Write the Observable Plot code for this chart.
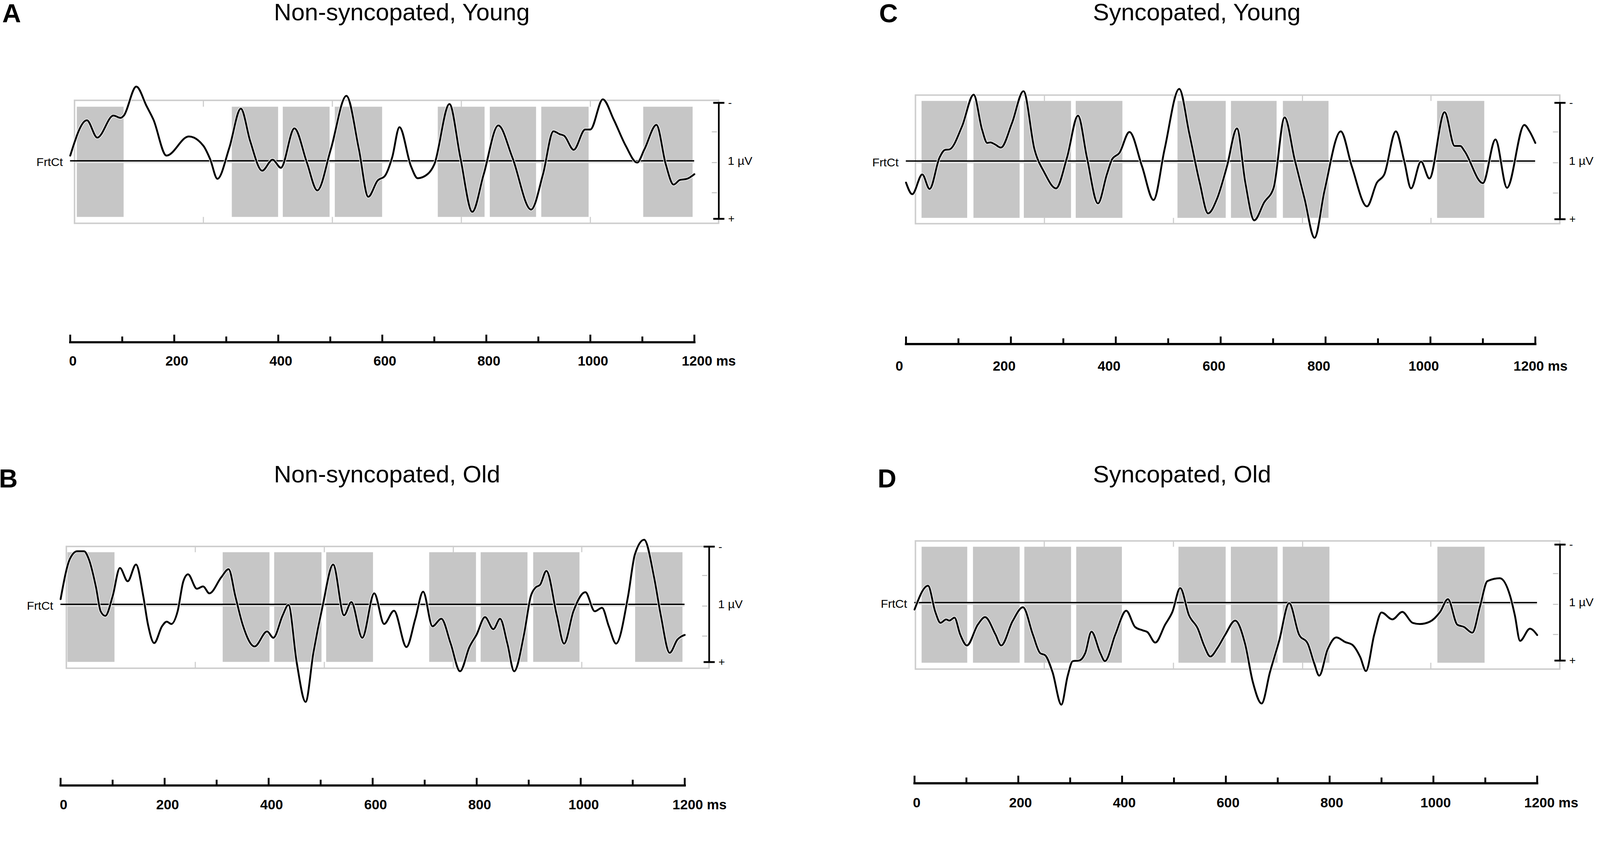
<!DOCTYPE html>
<html>
<head>
<meta charset="utf-8">
<script src="https://cdn.jsdelivr.net/npm/d3@7"></script>
<script src="https://cdn.jsdelivr.net/npm/@observablehq/plot@0.6"></script>
<style>
  html, body { margin: 0; padding: 0; background: #fff; overflow: hidden; }
  #page { position: relative; width: 4317px; height: 2189px; overflow: hidden; background: #fff;
          transform-origin: 0 0;
          font-family: "Liberation Sans", Arial, Helvetica, sans-serif; color: #000; }
  .panel { position: absolute; }
  .title { position: absolute; font-size: 65px; line-height: 1; white-space: nowrap; z-index: 2; }
  .letter { position: absolute; font-size: 70px; font-weight: bold; line-height: 1; z-index: 2; }
</style>
</head>
<body>
<div id="page"></div>
<script>
// ---------------- data (ms on the drawn axis, µV; negative is drawn upward) ----------------
const titles = ["Non-syncopated, Young", "Non-syncopated, Old", "Syncopated, Young", "Syncopated, Old"];
const letters = ["A", "B", "C", "D"];
const channelName = "FrtCt";
const scaleLabel = "1 µV";
const majorTicks = [0, 200, 400, 600, 800, 1000, 1200];
const minorTicks = [100, 300, 500, 700, 900, 1100];
const labelTicks = [0, 200, 400, 600, 800, 1000];
const lastTick = [1200];
const scaleBarEnds = [-1, 1];
const scaleBarMinor = [-0.5, 0.03, 0.55];

// Panel A: Non-syncopated, Young
const timeA = [0,32,52,83,97,103,127,147,160,185,228,256,269,283,306,328,346,369,389,405,431,455,475,501,531,555,573,591,605,619,633,655,668,687,700,729,750,773,795,823,850,886,909,929,941,950,968,990,1000,1024,1045,1068,1090,1104,1127,1145,1160,1172,1186,1200];
const uvA   = [-0.09,-0.70,-0.40,-0.78,-0.74,-0.78,-1.28,-0.94,-0.71,-0.09,-0.42,-0.26,-0.03,0.31,-0.23,-0.90,-0.34,0.17,-0.02,0.12,-0.56,0.03,0.51,-0.20,-1.12,-0.20,0.62,0.34,0.26,-0.06,-0.58,0.09,0.30,0.23,0.06,-0.98,-0.06,0.88,0.23,-0.61,-0.06,0.84,0.23,-0.51,-0.46,-0.43,-0.19,-0.54,-0.54,-1.06,-0.71,-0.26,0.03,-0.20,-0.62,0.06,0.41,0.33,0.31,0.23];
const stimStartA = [13,311,409,509,707,807,906,1102];
const stimEndA   = [103,400,499,600,797,896,997,1197];
const boxA = [8.6, 1247, -1.04, 1.08];
const stimYA = [-0.93, 0.97];
const gridA = [256, 504, 752, 1000];

// Panel B: Non-syncopated, Old
const timeB = [0,18,32,45,54,68,77,86,100,114,129,145,159,168,180,195,204,213,225,236,245,262,274,286,309,323,336,350,373,397,409,427,438,454,471,486,504,524,545,559,580,603,622,641,665,682,697,715,732,750,768,786,800,816,832,845,859,872,891,904,913,922,934,954,968,986,1009,1027,1041,1054,1068,1091,1104,1122,1141,1154,1171,1186,1200];
const uvB   = [-0.09,-0.79,-0.92,-0.92,-0.79,-0.30,0.12,0.20,-0.14,-0.63,-0.40,-0.69,-0.14,0.35,0.67,0.38,0.30,0.34,0.12,-0.40,-0.52,-0.27,-0.31,-0.19,-0.47,-0.61,-0.14,0.35,0.73,0.47,0.58,0.19,0.01,1.01,1.69,0.84,0.02,-0.69,0.19,-0.04,0.58,-0.19,0.34,0.11,0.74,0.25,-0.22,0.38,0.25,0.68,1.16,0.74,0.52,0.22,0.43,0.25,0.68,1.16,0.52,-0.14,-0.29,-0.34,-0.58,0.19,0.68,0.12,-0.21,0.12,0.06,0.38,0.68,-0.14,-0.86,-1.12,-0.47,0.19,0.84,0.61,0.53];
const stimStartB = [13.5,312,411,511,709,808,909,1105];
const stimEndB   = [104,402,502,601,799,898,998,1196];
const boxB = [11.4, 1247, -1.0, 1.11];
const stimYB = [-0.90, 1.0];
const gridB = [259, 507, 755, 1002];

// Panel C: Syncopated, Young
const timeC = [0,12,31,45,64,74,83,107,129,145,155,161,169,181,202,224,245,264,286,307,328,345,366,383,393,407,426,450,472,493,521,540,560,576,593,612,631,647,664,683,701,722,741,760,779,798,829,850,879,898,912,934,950,963,982,998,1027,1046,1057,1065,1100,1124,1146,1179,1189,1200];
const uvC   = [0.37,0.57,0.23,0.48,-0.06,-0.19,-0.20,-0.60,-1.14,-0.54,-0.31,-0.32,-0.29,-0.23,-0.65,-1.20,-0.20,0.20,0.47,-0.06,-0.78,-0.06,0.73,0.23,-0.03,-0.14,-0.50,0.09,0.67,-0.20,-1.24,-0.48,0.37,0.90,0.65,0.09,-0.56,0.37,1.02,0.71,0.46,-0.75,-0.03,0.65,1.32,0.51,-0.51,0.09,0.78,0.37,0.23,-0.51,0.00,0.47,0.01,0.30,-0.84,-0.26,-0.26,-0.17,0.38,-0.37,0.46,-0.62,-0.51,-0.31];
const stimStartC = [30,129,225,324,518,620,719,1013];
const stimEndC   = [117,217,315,413,610,707,806,1103];
const boxC = [18.4, 1247, -1.13, 1.08];
const stimYC = [-1.03, 0.98];
const gridC = [264, 510, 756, 1001];

// Panel D: Syncopated, Old
const timeD = [0,26,40,50,61,67,77,88,101,122,136,156,167,189,209,228,242,252,266,283,295,305,317,329,341,358,367,387,408,425,440,449,464,483,497,512,529,546,558,570,584,599,618,637,652,669,685,703,722,741,758,770,780,796,813,830,844,859,870,886,900,921,940,960,974,993,1013,1028,1046,1059,1075,1090,1104,1128,1148,1157,1167,1186,1200];
const uvD   = [0.12,-0.29,0.16,0.35,0.29,0.31,0.26,0.55,0.74,0.38,0.25,0.55,0.74,0.32,0.08,0.55,0.87,0.91,1.20,1.76,1.27,1.01,1.00,0.87,0.50,0.87,1.01,0.55,0.14,0.42,0.48,0.51,0.69,0.38,0.16,-0.25,0.22,0.45,0.74,0.93,0.78,0.55,0.31,0.71,1.37,1.74,1.20,0.65,0.01,0.55,0.71,1.04,1.26,0.81,0.60,0.68,0.73,0.94,1.18,0.55,0.17,0.29,0.16,0.35,0.37,0.33,0.16,-0.06,0.38,0.42,0.52,0.06,-0.37,-0.42,-0.11,0.22,0.66,0.45,0.56];
const stimStartD = [14,113,212,312,509,610,710,1008];
const stimEndD   = [102,203,302,400,600,700,800,1099];
const boxD = [2.1, 1244, -1.06, 1.15];
const stimYD = [-0.96, 1.04];
const gridD = [250, 499, 748, 995];

// ---------------- layout (pixels) ----------------
const layout = [
  {left: 0,    top: 0,    w: 2158, h: 1094, xr: [189, 1873], yr: [277, 590],   axisY: 923,  pad: 37, ldx: 7,
   title: [739, 0], letter: [6, 1]},
  {left: 0,    top: 1094, w: 2158, h: 1095, xr: [163, 1847], yr: [380.5, 692], axisY: 1025, pad: 38, ldx: 8,
   title: [739, 1247], letter: [-3, 1256]},
  {left: 2158, top: 0,    w: 2159, h: 1094, xr: [286, 1984], yr: [277, 591],   axisY: 928,  pad: 45, ldx: -18,
   title: [2949, 0], letter: [2372, 1]},
  {left: 2158, top: 1094, w: 2159, h: 1095, xr: [309, 1989], yr: [375, 688],   axisY: 1019, pad: 39, ldx: 6,
   title: [2949, 1247], letter: [2368, 1256]}
];

const panels = [
  {t: timeA, v: uvA, bs: stimStartA, be: stimEndA, box: boxA, stimY: stimYA, grid: gridA},
  {t: timeB, v: uvB, bs: stimStartB, be: stimEndB, box: boxB, stimY: stimYB, grid: gridB},
  {t: timeC, v: uvC, bs: stimStartC, be: stimEndC, box: boxC, stimY: stimYC, grid: gridC},
  {t: timeD, v: uvD, bs: stimStartD, be: stimEndD, box: boxD, stimY: stimYD, grid: gridD}
];

const hline = {
  draw(context, size) {
    const r = Math.sqrt(size / Math.PI);
    context.moveTo(-r, 0);
    context.lineTo(r, 0);
  }
};

const FONT = '"Liberation Sans", Arial, Helvetica, sans-serif';
const GRAY_BOX = "#cdcdcd";
const GRAY_STIM = "#c6c6c6";

function makePanel(d, L) {
  const wave = d.t.map((t, i) => ({t, v: d.v[i]}));
  const t0 = d.t[0], t1 = d.t[d.t.length - 1];
  const [bx1, bx2, by1, by2] = d.box;
  const [ky1, ky2] = d.stimY;
  const blocks = d.bs.map((s, i) => ({s, e: d.be[i]}));
  return Plot.plot({
    width: L.w,
    height: L.h,
    marginLeft: L.xr[0],
    marginRight: L.w - L.xr[1],
    marginTop: L.yr[0],
    marginBottom: L.h - L.axisY,
    x: {domain: [0, 1200], range: L.xr},
    y: {domain: [-1, 1], range: L.yr, axis: null},
    style: {fontFamily: FONT, overflow: "visible", background: "transparent", color: "#000"},
    marks: [
      // ERP window frame
      Plot.rect([d.box], {x1: bx1, x2: bx2, y1: by1, y2: by2, fill: "white", stroke: GRAY_BOX, strokeWidth: 4}),
      Plot.ruleX(d.grid, {y1: by1, y2: ky1, stroke: GRAY_BOX, strokeWidth: 3}),
      Plot.ruleX(d.grid, {y1: ky2, y2: by2, stroke: GRAY_BOX, strokeWidth: 3}),
      // stimulus sound blocks
      Plot.rect(blocks, {x1: "s", x2: "e", y1: ky1, y2: ky2, fill: GRAY_STIM}),
      // zero line (with light halo)
      Plot.ruleY([0], {x1: bx1, x2: t1, dy: 4, stroke: "#e2e2e2", strokeWidth: 4}),
      Plot.ruleY([0], {x1: t0, x2: t1, stroke: "#000", strokeWidth: 3.8}),
      // waveform with white halo
      Plot.line(wave, {x: "t", y: "v", curve: "monotone-x", stroke: "white", strokeWidth: 8, strokeLinejoin: "round"}),
      Plot.line(wave, {x: "t", y: "v", curve: "monotone-x", stroke: "#000", strokeWidth: 5, strokeLinejoin: "round"}),
      // calibration bar
      Plot.ruleX([bx2], {y1: scaleBarEnds[0], y2: scaleBarEnds[1], stroke: "#000", strokeWidth: 4.5}),
      Plot.dot(scaleBarEnds, {x: bx2, y: v => v, symbol: hline, r: 15, stroke: "#000", strokeWidth: 5, fill: "none"}),
      Plot.dot(scaleBarMinor, {x: bx2, y: v => v, symbol: hline, r: 7, dx: -12, stroke: "#c0c0c0", strokeWidth: 2.5, fill: "none"}),
      Plot.text(["-", "+"], {x: bx2, y: scaleBarEnds, text: s => s, dx: 25, textAnchor: "start", fontSize: 30}),
      Plot.text([scaleLabel], {x: bx2, y: 0, text: s => s, dx: 24, textAnchor: "start", fontSize: 32}),
      Plot.text([channelName], {x: t0, y: 0, text: s => s, dx: -20, dy: 4, textAnchor: "end", fontSize: 32}),
      // time axis
      Plot.frame({anchor: "bottom", strokeWidth: 6}),
      Plot.axisX({ticks: majorTicks, tickSize: 20, dy: -20, fill: "none", strokeWidth: 5, label: null}),
      Plot.axisX({ticks: minorTicks, tickSize: 15, dy: -15, fill: "none", strokeWidth: 5, label: null}),
      Plot.axisX({ticks: labelTicks, tickSize: 0, tickPadding: L.pad, dx: L.ldx, tickFormat: v => String(v),
                  fontSize: 37, fontWeight: "bold", label: null}),
      Plot.axisX({ticks: lastTick, tickSize: 0, tickPadding: L.pad, dx: L.ldx - 41, textAnchor: "start",
                  tickFormat: v => v + " ms", fontSize: 37, fontWeight: "bold", label: null})
    ]
  });
}

const page = document.getElementById("page");
panels.forEach((d, i) => {
  const L = layout[i];
  const holder = document.createElement("div");
  holder.className = "panel";
  holder.style.left = L.left + "px";
  holder.style.top = L.top + "px";
  holder.appendChild(makePanel(d, L));
  page.appendChild(holder);

  const t = document.createElement("div");
  t.className = "title";
  t.textContent = titles[i];
  t.style.left = L.title[0] + "px";
  t.style.top = L.title[1] + "px";
  page.appendChild(t);

  const l = document.createElement("div");
  l.className = "letter";
  l.textContent = letters[i];
  l.style.left = L.letter[0] + "px";
  l.style.top = L.letter[1] + "px";
  page.appendChild(l);
});

// fit the 4317×2189 figure into the actual viewport
function fit() {
  const s = Math.min(window.innerWidth / 4317, window.innerHeight / 2189);
  page.style.transform = Math.abs(s - 1) > 0.002 ? `scale(${s})` : "";
}
fit();
window.addEventListener("resize", fit);
</script>
</body>
</html>
